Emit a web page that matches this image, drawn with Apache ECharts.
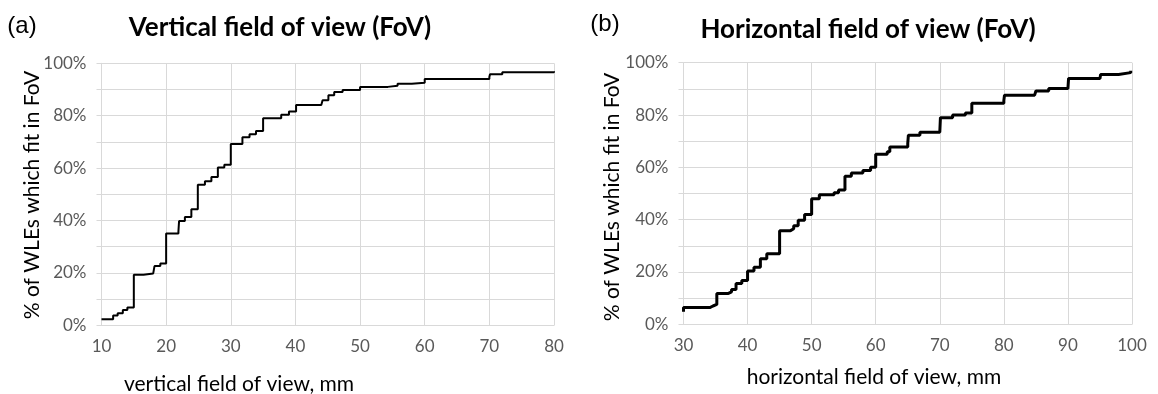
<!DOCTYPE html>
<html>
<head>
<meta charset="utf-8">
<script src="https://cdn.jsdelivr.net/npm/echarts@6/dist/echarts.min.js"></script>
<style>html,body{margin:0;padding:0;background:#fff}#c{width:1158px;height:394px}</style>
</head>
<body>
<div id="c"></div>
<script>
// Panel (a): vertical field of view, mm  -> % of WLEs which fit in FoV
const vfovX = [10, 11.8, 12.5, 13.3, 14.0, 15.0, 16.5, 18.0, 18.2, 19.1, 20.0, 21.9, 22.0, 22.9, 23.9, 24.9, 26.0, 27.0, 28.0, 29.0, 30.0, 31.8, 32.9, 33.9, 35.0, 37.8, 39.0, 40.1, 44.0, 44.2, 45.1, 46.0, 47.3, 50.0, 54.3, 55.8, 58.0, 60.0, 70.0, 70.1, 72.0, 80.0];
const vfovY = [2.3, 3.7, 4.6, 5.8, 6.8, 19.3, 19.8, 20.5, 22.6, 23.6, 35.0, 35.8, 39.8, 41.3, 44.3, 53.6, 55.0, 56.6, 60.2, 61.3, 69.2, 71.8, 72.9, 74.2, 79.0, 80.4, 81.6, 84.1, 84.8, 85.9, 87.8, 89.0, 89.8, 91.0, 91.4, 92.2, 92.6, 94.0, 94.8, 95.8, 96.6, 97.0];

// Panel (b): horizontal field of view, mm -> % of WLEs which fit in FoV
const hfovX = [30, 30, 34.1, 34.6, 35.2, 37.0, 37.5, 38.2, 39.1, 40.0, 41.0, 42.0, 43.0, 45.0, 46.7, 47.2, 47.9, 48.9, 50.0, 51.2, 53.5, 54.2, 55.2, 56.2, 58.0, 59.2, 60.0, 61.8, 62.2, 65.0, 65.1, 66.9, 70.0, 70.1, 72.0, 74.0, 75.0, 80.0, 80.1, 84.8, 85.0, 87.0, 90.0, 90.1, 95.0, 95.1, 97.9, 99.8];
const hfovY = [4.8, 6.4, 7.0, 7.6, 11.8, 12.4, 13.3, 15.6, 16.7, 20.4, 21.8, 25.1, 27.0, 35.8, 36.5, 37.7, 39.8, 42.0, 48.0, 49.5, 50.3, 51.3, 56.6, 57.8, 58.8, 60.0, 65.0, 66.0, 67.8, 69.2, 72.3, 73.4, 74.0, 79.0, 80.0, 80.8, 84.5, 85.6, 87.6, 88.3, 89.2, 90.1, 90.8, 94.0, 94.6, 95.5, 96.2, 96.9];

const yTicks = [0, 20, 40, 60, 80, 100];
const titles = ['Vertical field of view (FoV)', 'Horizontal field of view (FoV)'];
const panelTags = ['(a)', '(b)'];
const xNames = ['vertical field of view, mm', 'horizontal field of view, mm'];
const yName = '% of WLEs which fit in FoV';

const FONT = 'Lato';
const gridColor = '#d9d9d9';
const labelColor = '#595959';

function pairs(xs, ys) { return xs.map((x, i) => [x, ys[i]]); }

function xAxisCfg(idx, min, max) {
  return {
    type: 'value', gridIndex: idx, min: min, max: max, interval: 10,
    axisLine: { show: true, lineStyle: { color: gridColor, width: 1 } },
    axisTick: { show: false },
    splitLine: { show: true, lineStyle: { color: gridColor, width: 1 } },
    axisLabel: { color: labelColor, fontFamily: FONT, fontSize: 17, margin: 13, showMaxLabel: true, showMinLabel: true }
  };
}
function yAxisCfg(idx) {
  return {
    type: 'value', gridIndex: idx, min: 0, max: 100, interval: 10,
    axisLine: { show: true, lineStyle: { color: gridColor, width: 1 } },
    axisTick: { show: true, length: 5, lineStyle: { color: gridColor } },
    splitLine: { show: true, lineStyle: { color: gridColor, width: 1 } },
    axisLabel: {
      color: labelColor, fontFamily: FONT, fontSize: 17, margin: 15,
      formatter: v => yTicks.indexOf(v) >= 0 ? v + '%' : ''
    }
  };
}

const chart = echarts.init(document.getElementById('c'), null, { renderer: 'canvas' });
chart.setOption({
  animation: false,
  backgroundColor: '#fff',
  grid: [
    { left: 101.5, top: 63.3, width: 452.5, height: 262 },
    { left: 683.5, top: 62.7, width: 448.5, height: 261.6 }
  ],
  xAxis: [xAxisCfg(0, 10, 80), xAxisCfg(1, 30, 100)],
  yAxis: [yAxisCfg(0), yAxisCfg(1)],
  series: [
    { type: 'line', xAxisIndex: 0, yAxisIndex: 0, step: 'end', showSymbol: false,
      data: pairs(vfovX, vfovY), lineStyle: { color: '#000', width: 2 } },
    { type: 'line', xAxisIndex: 1, yAxisIndex: 1, step: 'end', showSymbol: false,
      data: pairs(hfovX, hfovY), lineStyle: { color: '#000', width: 3 } }
  ],
  graphic: [
    { type: 'text', x: 22, y: 26, style: { text: panelTags[0], font: '24px "Liberation Sans"', fill: '#000', align: 'center', verticalAlign: 'middle' } },
    { type: 'text', x: 605, y: 24, style: { text: panelTags[1], font: '24px "Liberation Sans"', fill: '#000', align: 'center', verticalAlign: 'middle' } },
    { type: 'text', x: 280, y: 28, style: { text: titles[0], font: 'bold 26px ' + FONT, fill: '#000', align: 'center', verticalAlign: 'middle' } },
    { type: 'text', x: 868, y: 30, style: { text: titles[1], font: 'bold 26px ' + FONT, fill: '#000', align: 'center', verticalAlign: 'middle' } },
    { type: 'text', x: 239, y: 384, style: { text: xNames[0], font: '21px ' + FONT, fill: '#000', align: 'center', verticalAlign: 'middle' } },
    { type: 'text', x: 874, y: 377, style: { text: xNames[1], font: '21px ' + FONT, fill: '#000', align: 'center', verticalAlign: 'middle' } },
    { type: 'text', x: 32, y: 195, rotation: Math.PI / 2, style: { text: yName, font: '21px ' + FONT, fill: '#000', align: 'center', verticalAlign: 'middle' } },
    { type: 'text', x: 612, y: 197, rotation: Math.PI / 2, style: { text: yName, font: '21px ' + FONT, fill: '#000', align: 'center', verticalAlign: 'middle' } }
  ]
});
</script>
</body>
</html>
